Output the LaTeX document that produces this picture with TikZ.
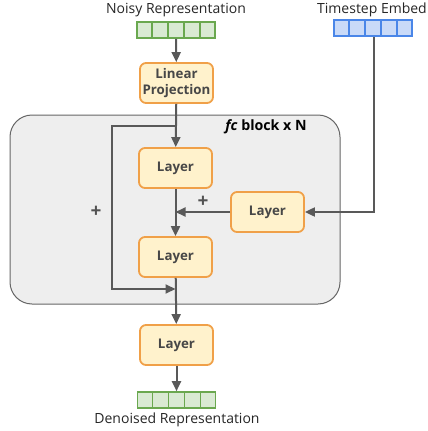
\documentclass[tikz,border=0pt]{standalone}
\usepackage{fontspec}
\setmainfont{Open Sans}
\usetikzlibrary{arrows.meta,calc}
\definecolor{lyfill}{RGB}{255,242,204}
\definecolor{lyedge}{RGB}{240,160,72}
\definecolor{gnfill}{RGB}{217,234,211}
\definecolor{gnedge}{RGB}{106,168,79}
\definecolor{blfill}{RGB}{201,218,248}
\definecolor{bledge}{RGB}{74,134,232}
\definecolor{bkfill}{RGB}{238,238,238}
\definecolor{bkedge}{RGB}{102,102,102}
\definecolor{wire}{RGB}{89,89,89}

\begin{document}
\begin{tikzpicture}[x=1pt,y=-1pt,
    layer/.style={draw=lyedge,fill=lyfill,line width=1.8pt,rounded corners=6pt,
      minimum width=73pt,minimum height=40pt,inner sep=0pt,align=center,
      text=black!72,font=\fontsize{13.3}{15.5}\selectfont\bfseries},
    vec/.style={line width=1.6pt,minimum width=78pt,minimum height=16pt,inner sep=0pt},
    txt/.style={font=\fontsize{14}{16}\selectfont,inner sep=0pt,text=black!85},
    plus/.style={font=\fontsize{19}{21}\selectfont\bfseries,text=black!68,inner sep=0pt},
    arr/.style={draw=wire,line width=2pt,-{Triangle[length=10pt,width=9pt]}}]
  \useasboundingbox (0,0) rectangle (428,431);

  % fc block background
  \node[draw=bkedge,fill=bkfill,line width=1pt,rounded corners=22pt,
    minimum width=330pt,minimum height=189pt] (fcblock) at (175,209.5) {};
  \node[font=\fontsize{14.2}{16}\selectfont\bfseries,inner sep=0pt] (fctitle) at (266,127)
    {\textit{fc} block x N};

  % input / output vectors
  \node[vec,draw=gnedge,fill=gnfill] (noisy) at (176,30) {};
  \node[vec,draw=bledge,fill=blfill] (time) at (373,28) {};
  \node[vec,draw=gnedge,fill=gnfill] (out) at (176.5,400) {};
  \foreach \v/\c in {noisy/gnedge,time/bledge,out/gnedge}
    \foreach \k in {1,...,4}
      \draw[\c,line width=1.6pt] ($(\v.north west)!\k/5!(\v.north east)$)
        -- ($(\v.south west)!\k/5!(\v.south east)$);
  \node[txt] (noisytxt) at (176,10) {Noisy Representation};
  \node[txt] (timetxt) at (372,10) {Timestep Embed};
  \node[txt] (outtxt) at (177,420) {Denoised Representation};

  % layers
  \node[layer] (proj) at (176.5,83) {Linear\\Projection};
  \node[layer] (layerA) at (175.5,168) {Layer};
  \node[layer] (layerT) at (267.5,212) {Layer};
  \node[layer] (layerB) at (175.5,257) {Layer};
  \node[layer] (layerC) at (176.5,345) {Layer};

  \coordinate (split) at (175.5,126);
  \coordinate (skipTop) at (112,126);
  \coordinate (skipBot) at (112,289);
  \coordinate (join) at (175.5,289);
  \coordinate (merge) at (175.5,212);
  \coordinate (turn) at (374,212);

  % wires
  \draw[arr] (noisy) -- (proj);
  \draw[arr] (proj) -- (layerA);
  \draw[arr] (split) -- (skipTop) -- (skipBot) -- (join);
  \draw[arr] (layerA) -- (layerB);
  \draw[arr] (layerT) -- (merge);
  \draw[arr] (time.south -| turn) -- (turn) -- (layerT);
  \draw[arr] (layerB) -- (layerC);
  \draw[arr] (layerC) -- (out);

  \node[plus] (plusL) at (96,212) {+};
  \node[plus] (plusR) at (203,202) {+};
\end{tikzpicture}
\end{document}
